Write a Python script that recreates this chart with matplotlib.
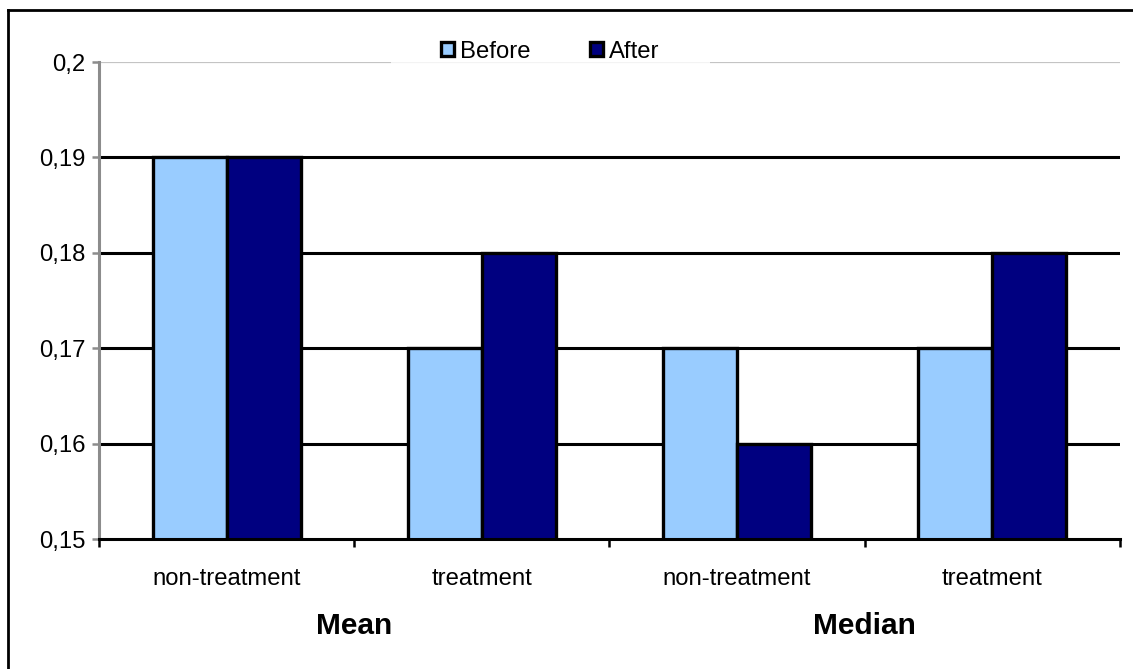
import matplotlib.pyplot as plt
from matplotlib.lines import Line2D
from matplotlib.ticker import FuncFormatter, FixedLocator
import numpy as np

plt.rcParams['font.family'] = ['Liberation Sans', 'DejaVu Sans']

categories = ["non-treatment", "treatment", "non-treatment", "treatment"]
groups = ["Mean", "Median"]
before = [0.19, 0.17, 0.17, 0.17]
after = [0.19, 0.18, 0.16, 0.18]

c_before = "#99CCFF"
c_after = "#000080"

fig = plt.figure(figsize=(11.33, 6.69), dpi=100)
ax = fig.add_axes([0.0874, 0.1943, 0.9011, 0.713])

x = np.arange(len(categories))
w = 0.29
ax.bar(x - w / 2, before, w, bottom=0, color=c_before, edgecolor="black",
       linewidth=2.4, label="Before", zorder=3)
ax.bar(x + w / 2, after, w, bottom=0, color=c_after, edgecolor="black",
       linewidth=2.4, label="After", zorder=3)

ax.set_ylim(0.15, 0.2)
ax.set_xlim(-0.5, len(categories) - 0.5)

# gridlines: black inside, grey at the top
for v in [0.16, 0.17, 0.18, 0.19]:
    ax.axhline(v, color="black", linewidth=2.2, zorder=1)
ax.axhline(0.2, color="#c4c4c4", linewidth=1.6, zorder=1)

ax.set_yticks([0.15, 0.16, 0.17, 0.18, 0.19, 0.2])
ax.yaxis.set_major_formatter(FuncFormatter(
    lambda v, p: f"{v:.2f}".rstrip("0").replace(".", ",")))
ax.tick_params(axis="y", colors="#8c8c8c", labelcolor="black", length=5,
               width=1.8, pad=5, labelsize=17.2)

ax.set_xticks(x)
ax.set_xticklabels(categories)
ax.tick_params(axis="x", length=0, pad=21, labelsize=17.2)
ax.xaxis.set_minor_locator(FixedLocator(np.arange(len(categories) + 1) - 0.5))
ax.tick_params(axis="x", which="minor", length=6, width=1.8, color="black")

for s in ["top", "right"]:
    ax.spines[s].set_visible(False)
ax.spines["left"].set_color("#8c8c8c")
ax.spines["left"].set_linewidth(2.2)
ax.spines["left"].set_zorder(4)
ax.spines["bottom"].set_color("black")
ax.spines["bottom"].set_linewidth(2.2)
ax.spines["bottom"].set_zorder(4)

# group names under the category labels
trans = ax.get_xaxis_transform()
for i, g in enumerate(groups):
    ax.text(2 * i + 0.5, -0.183, g, transform=trans, ha="center", va="center",
            fontsize=21.5, fontweight="bold")

leg = ax.legend(loc="center", bbox_to_anchor=(0.442, 1.022), ncol=2,
                frameon=True, fancybox=False, facecolor="white",
                edgecolor="white", fontsize=17.2, handlelength=0.55,
                handleheight=0.55, handletextpad=0.25, columnspacing=2.5,
                borderpad=0.4, borderaxespad=0)
leg.set_zorder(5)
leg.get_frame().set_linewidth(0)
# widen the white band behind the legend over the top gridline
leg.get_frame().set_boxstyle("square", pad=1.7)

# outer frame (left and top edges)
fig.add_artist(Line2D([0.0075, 0.0075], [0, 0.985], color="black",
                      linewidth=2, transform=fig.transFigure, zorder=10))
fig.add_artist(Line2D([0.0075, 1.0], [0.985, 0.985], color="black",
                      linewidth=2, transform=fig.transFigure, zorder=10))

fig.savefig("out.png", dpi=100)
